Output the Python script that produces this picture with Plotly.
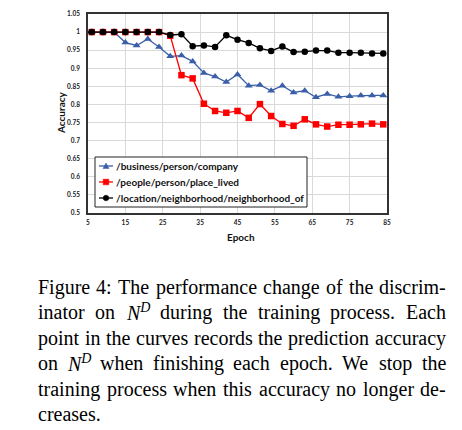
import plotly.graph_objects as go

epochs = [3, 6, 9, 12, 15, 18, 21, 24, 27, 30, 33, 36, 39, 42, 45, 48, 51, 54, 57, 60, 63, 66, 69, 72, 75, 78, 81, 84]
company = [1.0, 1.0, 1.0, 1.0, 0.971, 0.963, 0.981, 0.959, 0.933, 0.935, 0.919, 0.887, 0.877, 0.862,
           0.883, 0.852, 0.854, 0.838, 0.852, 0.833, 0.838, 0.820, 0.829, 0.821, 0.823, 0.825, 0.825, 0.825]
place_lived = [1.0, 1.0, 1.0, 1.0, 1.0, 1.0, 1.0, 1.0, 0.990, 0.881, 0.872, 0.802, 0.782, 0.777,
               0.782, 0.763, 0.801, 0.768, 0.746, 0.741, 0.759, 0.745, 0.739, 0.744, 0.744, 0.745, 0.747, 0.745]
neighborhood = [1.0, 1.0, 1.0, 1.0, 1.0, 1.0, 1.0, 1.0, 0.992, 0.994, 0.961, 0.963, 0.959, 0.991,
                0.979, 0.970, 0.955, 0.948, 0.960, 0.945, 0.946, 0.949, 0.949, 0.943, 0.943, 0.943, 0.941, 0.941]
series_names = ["/business/person/company", "/people/person/place_lived", "/location/neighborhood/neighborhood_of"]
series_colors = ["#3A5FA8", "#FF0000", "#000000"]

caption_lines = [
    ["Figure", "4:", "The", "performance", "change", "of", "the", "discrim-"],
    ["inator", "on", "ND", "during", "the", "training", "process.", "Each"],
    ["point", "in", "the", "curves", "records", "the", "prediction", "accuracy"],
    ["on", "ND", "when", "finishing", "each", "epoch.", "We", "stop", "the"],
    ["training", "process", "when", "this", "accuracy", "no", "longer", "de-"],
    ["creases."],
]

# page geometry (the browser adds an 8px body margin around the figure)
OFF = 8
W, H = 462, 430
L, R, T, B = 88, 387, 14, 213

fig = go.Figure()
fig.add_trace(go.Scatter(x=epochs, y=company, name=series_names[0], mode="lines+markers",
                         line=dict(color=series_colors[0], width=1.3),
                         marker=dict(symbol="triangle-up", size=7, color=series_colors[0])))
fig.add_trace(go.Scatter(x=epochs, y=place_lived, name=series_names[1], mode="lines+markers",
                         line=dict(color=series_colors[1], width=1.3),
                         marker=dict(symbol="square", size=6.5, color=series_colors[1])))
fig.add_trace(go.Scatter(x=epochs, y=neighborhood, name=series_names[2], mode="lines+markers",
                         line=dict(color=series_colors[2], width=1.3),
                         marker=dict(symbol="circle", size=6.5, color=series_colors[2])))

tickfont = dict(family="Lato", size=6.5, color="#222222", weight="bold")
fig.update_xaxes(range=[5, 85], tick0=5, dtick=10, showgrid=True, gridcolor="#D9D9D9", gridwidth=1,
                 showline=True, linecolor="#333333", linewidth=1.5, mirror=True, zeroline=False,
                 ticks="", tickfont=tickfont, ticklabelstandoff=2)
fig.update_yaxes(range=[0.5, 1.05], tick0=0.5, dtick=0.05, showgrid=True, gridcolor="#D9D9D9", gridwidth=1,
                 showline=True, linecolor="#333333", linewidth=1.5, mirror=True, zeroline=False,
                 ticks="", tickfont=tickfont, ticklabelstandoff=5)

def px_x(x):
    return (x - L) / (R - L)

def px_y(y):
    return (B - y) / (B - T)

ann = []
shapes = []
ann.append(dict(text="<b>Accuracy</b>", x=px_x(61), y=px_y(113), xref="paper", yref="paper",
                xanchor="center", yanchor="middle",
                textangle=-90, showarrow=False, font=dict(family="Lato", size=10, color="#111111")))
ann.append(dict(text="<b>Epoch</b>", x=px_x(241), y=px_y(237), xref="paper", yref="paper",
                xanchor="center", yanchor="middle",
                showarrow=False, font=dict(family="Lato", size=10, color="#111111")))

# legend box drawn inside the plot
LB = dict(x0=95, x1=307, y0=157, y1=207)
shapes.append(dict(type="rect", xref="paper", yref="paper", layer="above",
                   x0=px_x(LB["x0"]), x1=px_x(LB["x1"]), y0=px_y(LB["y1"]), y1=px_y(LB["y0"]),
                   line=dict(color="#222222", width=1), fillcolor="white"))
entry_y = [166, 182, 198]
sym_x0, sym_x1 = 99, 113
for i, (name, col) in enumerate(zip(series_names, series_colors)):
    yy = entry_y[i]
    shapes.append(dict(type="line", xref="paper", yref="paper", layer="above",
                       x0=px_x(sym_x0), x1=px_x(sym_x1), y0=px_y(yy), y1=px_y(yy),
                       line=dict(color=col, width=1.3)))
    cx = (sym_x0 + sym_x1) / 2
    r = 3
    if i == 0:
        path = "M {},{} L {},{} L {},{} Z".format(px_x(cx - r), px_y(yy + 2.5), px_x(cx + r), px_y(yy + 2.5),
                                                  px_x(cx), px_y(yy - 3))
        shapes.append(dict(type="path", xref="paper", yref="paper", layer="above", path=path,
                           fillcolor=col, line=dict(color=col, width=0.5)))
    elif i == 1:
        shapes.append(dict(type="rect", xref="paper", yref="paper", layer="above",
                           x0=px_x(cx - 2.8), x1=px_x(cx + 2.8), y0=px_y(yy + 2.8), y1=px_y(yy - 2.8),
                           fillcolor=col, line=dict(color=col, width=0.5)))
    else:
        shapes.append(dict(type="circle", xref="paper", yref="paper", layer="above",
                           x0=px_x(cx - 2.8), x1=px_x(cx + 2.8), y0=px_y(yy + 2.8), y1=px_y(yy - 2.8),
                           fillcolor=col, line=dict(color=col, width=0.5)))
    ann.append(dict(text=name, x=px_x(sym_x1 + 1), y=px_y(yy), xref="paper", yref="paper",
                    xanchor="left", yanchor="middle", showarrow=False,
                    font=dict(family="Lato", size=10, color="#111111", weight="bold")))

# Times (Liberation Serif) advance widths, units per 1000
tw = {' ': 250, 'a': 444, 'b': 500, 'c': 444, 'd': 500, 'e': 444, 'f': 333, 'g': 500, 'h': 500, 'i': 278,
      'j': 278, 'k': 500, 'l': 278, 'm': 778, 'n': 500, 'o': 500, 'p': 500, 'q': 500, 'r': 333, 's': 389,
      't': 278, 'u': 500, 'v': 500, 'w': 722, 'x': 500, 'y': 500, 'z': 444, 'F': 556, 'T': 611, 'E': 611,
      'W': 944, '4': 500, ':': 278, '.': 250, '-': 333}
FS = 20
X0, X1 = 37, 445
baselines = [287, 312, 338, 363, 389, 414]

def word_w(wd):
    if wd == "ND":
        return (667 + 722 * 0.7) * FS / 1000
    return sum(tw.get(c, 500) for c in wd) * FS / 1000

def word_html(wd):
    if wd == "ND":
        return "<i>N</i><sup><i>D</i></sup>"
    return wd

for li, words in enumerate(caption_lines):
    widths = [word_w(w) for w in words]
    if li < len(caption_lines) - 1 and len(words) > 1:
        gap = (X1 - X0 - sum(widths)) / (len(words) - 1)
    else:
        gap = tw[' '] * FS / 1000
    x = X0
    for wd, wv in zip(words, widths):
        ann.append(dict(text=word_html(wd), x=px_x(x), y=px_y(baselines[li]), xref="paper", yref="paper",
                        xanchor="left", yanchor="middle", showarrow=False, borderpad=0,
                        font=dict(family="Liberation Serif", size=FS, color="#000000")))
        x += wv + gap

fig.update_layout(
    width=W - OFF, height=H - OFF,
    margin=dict(l=L - OFF, r=W - R, t=T - OFF, b=H - B, autoexpand=False),
    paper_bgcolor="white", plot_bgcolor="white",
    showlegend=False,
    annotations=ann,
    shapes=shapes,
)

fig.write_html("out.html")
